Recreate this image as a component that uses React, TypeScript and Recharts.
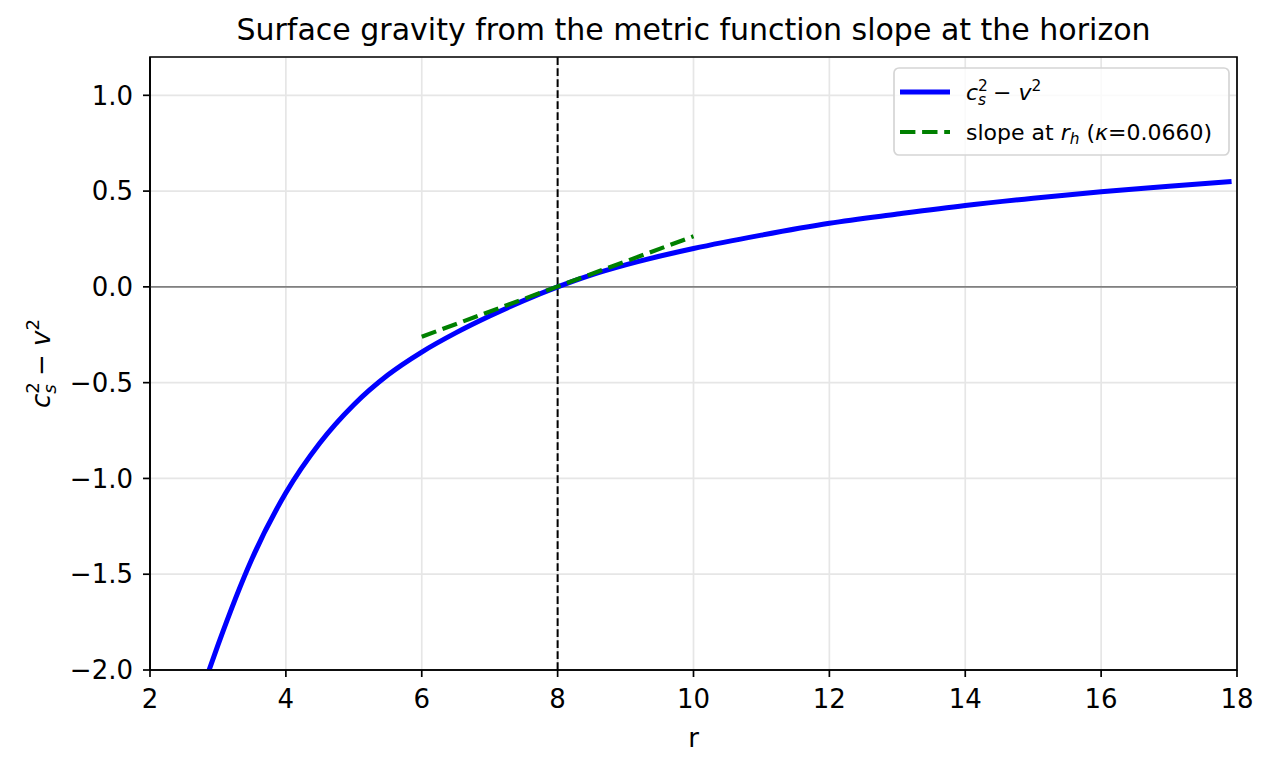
import { LineChart, Line, XAxis, YAxis, CartesianGrid, ReferenceLine, ReferenceArea, Legend } from 'recharts';

// values
const curveR = [2.87, 3.0, 3.5, 4.0, 4.5, 5.0, 5.5, 6.0, 6.5, 7.0, 7.5, 8.0, 8.5, 9, 10, 11, 12, 13, 14, 15, 16, 17, 17.92];
const curveV = [-2.0, -1.87, -1.42, -1.075, -0.815, -0.615, -0.46, -0.34, -0.24, -0.152, -0.072, 0, 0.063, 0.115, 0.2, 0.27, 0.332, 0.38, 0.425, 0.463, 0.497, 0.525, 0.55];
const slopeR = [6, 10];
const slopeV = [-0.26, 0.264];
const xTicks = [2, 4, 6, 8, 10, 12, 14, 16, 18];
const yTicks = [-2, -1.5, -1, -0.5, 0, 0.5, 1];
const horizon = 8;
const kappa = '0.0660';

const curveData = curveR.map((r, i) => ({ r, v: curveV[i] }));
const slopeData = slopeR.map((r, i) => ({ r, v: slopeV[i] }));

const FONT = 'DejaVu Sans';
const W = 1272;
const H = 771;

const fmt = (v: number) => v.toFixed(1).replace('-', '\u2212');

const YLabel = ({ viewBox }: any) => {
  const cx = (viewBox?.x ?? 0) + 50;
  const cy = (viewBox?.y ?? 57) + (viewBox?.height ?? 613) / 2;
  return (
    <text transform={`translate(${cx},${cy}) rotate(-90)`} textAnchor="middle" fontFamily={FONT} fontSize={26} fill="#000">
      <tspan fontStyle="italic">c</tspan>
      <tspan fontSize={18.2} dy={-11}>2</tspan>
      <tspan fontSize={18.2} fontStyle="italic" dx={-11.5} dy={17}>s</tspan>
      <tspan dy={-6}>{' \u2212 '}</tspan>
      <tspan fontStyle="italic">v</tspan>
      <tspan fontSize={18.2} dy={-11}>2</tspan>
    </text>
  );
};

const LegendBox = () => (
  <svg width={337} height={89} style={{ display: 'block' }}>
    <rect x={1} y={1} width={335} height={87} rx={5} fill="#fff" fillOpacity={0.8} stroke="#d5d5d5" strokeWidth={1.7} />
    <line x1={7} x2={57} y1={25} y2={25} stroke="#0000ff" strokeWidth={5} />
    <text x={73} y={33} fontFamily={FONT} fontSize={22} fill="#000">
      <tspan fontStyle="italic">c</tspan>
      <tspan fontSize={15.4} dy={-9.5}>2</tspan>
      <tspan fontSize={15.4} fontStyle="italic" dx={-9.8} dy={14}>s</tspan>
      <tspan dy={-4.5}>{' \u2212 '}</tspan>
      <tspan fontStyle="italic">v</tspan>
      <tspan fontSize={15.4} dy={-9.5}>2</tspan>
    </text>
    <line x1={7} x2={57} y1={65} y2={65} stroke="#008000" strokeWidth={4.2} strokeDasharray="15.4 6.7" />
    <text x={73} y={72.5} fontFamily={FONT} fontSize={22} fill="#000">
      <tspan>{'slope at '}</tspan>
      <tspan fontStyle="italic">r</tspan>
      <tspan fontSize={15.4} fontStyle="italic" dy={4}>h</tspan>
      <tspan dy={-4}>{' ('}</tspan>
      <tspan fontStyle="italic">κ</tspan>
      <tspan>{`=${kappa})`}</tspan>
    </text>
  </svg>
);

export default function App() {
  return (
    <div style={{ position: 'absolute', left: 0, top: 0, width: W, height: H, background: '#fff', fontFamily: FONT }}>
      <div style={{ position: 'absolute', left: 150, width: 1087, top: 15, fontSize: 30, lineHeight: '30px', textAlign: 'center', color: '#000', whiteSpace: 'nowrap' }}>
        Surface gravity from the metric function slope at the horizon
      </div>
      <LineChart width={W} height={H} margin={{ top: 57, right: 35, bottom: 41, left: 0 }}>
        <CartesianGrid stroke="#e6e6e6" strokeWidth={1.7} />
        <XAxis
          dataKey="r"
          type="number"
          domain={[2, 18]}
          ticks={xTicks}
          allowDataOverflow
          height={60}
          tickSize={7}
          tickMargin={13}
          axisLine={{ stroke: '#000', strokeWidth: 1.7 }}
          tickLine={{ stroke: '#000', strokeWidth: 1.7 }}
          tick={{ fill: '#000', fontSize: 26, fontFamily: FONT }}
        />
        <YAxis
          dataKey="v"
          type="number"
          domain={[-2, 1.2]}
          ticks={yTicks}
          allowDataOverflow
          width={150}
          tickSize={7}
          tickMargin={10}
          tickFormatter={fmt}
          axisLine={{ stroke: '#000', strokeWidth: 1.7 }}
          tickLine={{ stroke: '#000', strokeWidth: 1.7 }}
          tick={{ fill: '#000', fontSize: 26, fontFamily: FONT }}
          label={<YLabel />}
        />
        <ReferenceLine y={0} stroke="#808080" strokeWidth={1.7} />
        <ReferenceLine x={horizon} stroke="#000" strokeWidth={2} strokeDasharray="7.7 3.3" />
        <Line
          data={curveData}
          dataKey="v"
          type="monotone"
          stroke="#0000ff"
          strokeWidth={5}
          dot={false}
          isAnimationActive={false}
        />
        <Line
          data={slopeData}
          dataKey="v"
          type="linear"
          stroke="#008000"
          strokeWidth={4.2}
          strokeDasharray="15.4 6.7"
          dot={false}
          isAnimationActive={false}
        />
        <ReferenceArea x1={2} x2={18} y1={-2} y2={1.2} fill="none" stroke="#000" strokeWidth={1.7} />
        <Legend
          layout="horizontal"
          verticalAlign="middle"
          align="center"
          wrapperStyle={{ left: 893, top: 67, width: 337, height: 89 }}
          content={<LegendBox />}
        />
      </LineChart>
      <div style={{ position: 'absolute', left: 150, width: 1087, top: 725, fontSize: 26, lineHeight: '26px', textAlign: 'center', color: '#000' }}>
        r
      </div>
    </div>
  );
}
